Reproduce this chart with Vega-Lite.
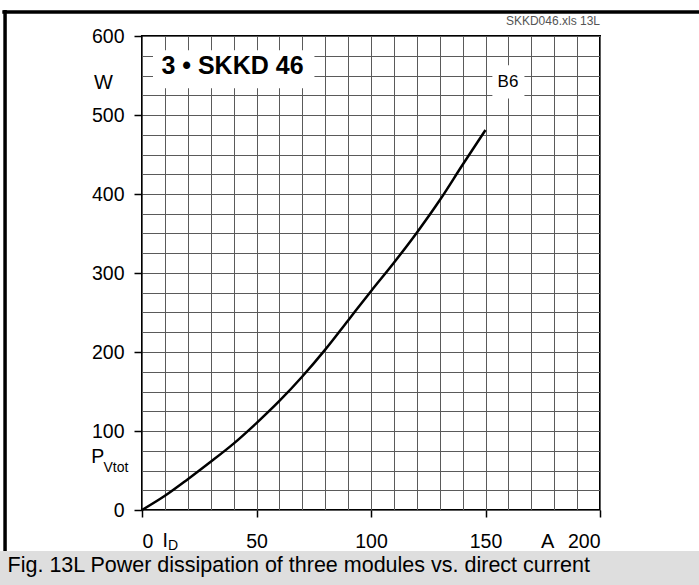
{
  "$schema": "https://vega.github.io/schema/vega-lite/v6.json",
  "width": 458,
  "height": 474,
  "autosize": {"type": "none"},
  "padding": {"left": 142, "top": 36, "right": 99, "bottom": 75},
  "background": "white",
  "config": {
    "view": {"stroke": "black", "strokeWidth": 2},
    "font": "Liberation Sans",
    "text": {"font": "Liberation Sans", "color": "black"}
  },
  "datasets": {
    "curve": [
      {"I": 0, "P": 0}, {"I": 10, "P": 18}, {"I": 20, "P": 39}, {"I": 30, "P": 61},
      {"I": 40, "P": 84}, {"I": 50, "P": 110}, {"I": 60, "P": 138}, {"I": 70, "P": 169},
      {"I": 80, "P": 203}, {"I": 90, "P": 240}, {"I": 100, "P": 277}, {"I": 110, "P": 313},
      {"I": 120, "P": 351}, {"I": 130, "P": 392}, {"I": 140, "P": 437}, {"I": 150, "P": 481}
    ],
    "band": [{"x": -62, "x2": 246, "y": -52, "y2": -100}],
    "frame": [
      {"x": -61, "x2": 246, "y": 630.4, "y2": 630.4},
      {"x": -59.8, "x2": -59.8, "y": 633, "y2": -52}
    ],
    "boxes": [
      {"x": 4.8, "x2": 75.3, "y": 534, "y2": 582},
      {"x": 153, "x2": 167, "y": 521, "y2": 563}
    ]
  },
  "resolve": {"axis": {"x": "independent", "y": "independent"}},
  "layer": [
    {
      "data": {"name": "band"},
      "mark": {"type": "rect", "color": "#dedede", "clip": false},
      "encoding": {
        "x": {"field": "x", "type": "quantitative", "scale": {"domain": [0, 200], "nice": false, "zero": false},
          "axis": {"orient": "bottom", "values": [0,10,20,30,40,50,60,70,80,90,100,110,120,130,140,150,160,170,180,190,200], "grid": true, "gridColor": "#5a5a5a", "gridWidth": 1, "gridOpacity": 1, "labels": false, "ticks": false, "domain": false, "title": null}},
        "x2": {"field": "x2"},
        "y": {"field": "y", "type": "quantitative", "scale": {"domain": [0, 600], "nice": false, "zero": false},
          "axis": {"orient": "left", "values": [0,25,50,75,100,125,150,175,200,225,250,275,300,325,350,375,400,425,450,475,500,525,550,575,600], "grid": true, "gridColor": "#5a5a5a", "gridWidth": 1, "gridOpacity": 1, "labels": false, "ticks": false, "domain": false, "title": null}},
        "y2": {"field": "y2"}
      }
    },
    {
      "data": {"name": "frame"},
      "mark": {"type": "rule", "color": "black", "strokeWidth": 3.5, "clip": false},
      "encoding": {
        "x": {"field": "x", "type": "quantitative", "scale": {"domain": [0, 200], "nice": false, "zero": false}, "axis": null},
        "x2": {"field": "x2"},
        "y": {"field": "y", "type": "quantitative", "scale": {"domain": [0, 600], "nice": false, "zero": false}, "axis": null},
        "y2": {"field": "y2"}
      }
    },
    {
      "data": {"name": "boxes"},
      "mark": {"type": "rect", "color": "white"},
      "encoding": {
        "x": {"field": "x", "type": "quantitative", "scale": {"domain": [0, 200], "nice": false, "zero": false}, "axis": null},
        "x2": {"field": "x2"},
        "y": {"field": "y", "type": "quantitative", "scale": {"domain": [0, 600], "nice": false, "zero": false}, "axis": null},
        "y2": {"field": "y2"}
      }
    },
    {
      "data": {"name": "curve"},
      "mark": {"type": "line", "color": "black", "strokeWidth": 2.5, "interpolate": "monotone"},
      "encoding": {
        "x": {"field": "I", "type": "quantitative", "scale": {"domain": [0, 200], "nice": false, "zero": false},
          "axis": {"orient": "bottom", "values": [0, 50, 100, 150, 200], "grid": false, "domain": false, "tickSize": 7, "tickColor": "black", "tickWidth": 1.5, "labelFontSize": 19.5, "labelFont": "Liberation Sans", "labelColor": "black", "labelPadding": 15, "labelBaseline": "top", "title": null}},
        "y": {"field": "P", "type": "quantitative", "scale": {"domain": [0, 600], "nice": false, "zero": false},
          "axis": {"orient": "left", "values": [0, 100, 200, 300, 400, 500, 600], "grid": false, "domain": false, "tickSize": 8, "tickColor": "black", "tickWidth": 1.5, "labelFontSize": 19.5, "labelFont": "Liberation Sans", "labelColor": "black", "labelPadding": 10, "title": null}}
      }
    },
    {
      "data": {"values": [{"x": 39.5, "y": 562, "t": "3 • SKKD 46"}]},
      "mark": {"type": "text", "fontSize": 25, "fontWeight": "bold", "align": "center", "baseline": "middle", "clip": false},
      "encoding": {
        "x": {"field": "x", "type": "quantitative", "scale": {"domain": [0, 200], "nice": false, "zero": false}, "axis": null},
        "y": {"field": "y", "type": "quantitative", "scale": {"domain": [0, 600], "nice": false, "zero": false}, "axis": null},
        "text": {"field": "t"}
      }
    },
    {
      "data": {"values": [{"x": 159.8, "y": 542, "t": "B6"}]},
      "mark": {"type": "text", "fontSize": 17, "align": "center", "baseline": "middle", "clip": false},
      "encoding": {
        "x": {"field": "x", "type": "quantitative", "scale": {"domain": [0, 200], "nice": false, "zero": false}, "axis": null},
        "y": {"field": "y", "type": "quantitative", "scale": {"domain": [0, 600], "nice": false, "zero": false}, "axis": null},
        "text": {"field": "t"}
      }
    },
    {
      "data": {"values": [{"x": -16.8, "y": 540, "t": "W"}, {"x": 177.2, "y": -40, "t": "A"}]},
      "mark": {"type": "text", "fontSize": 20, "align": "center", "baseline": "middle", "clip": false},
      "encoding": {
        "x": {"field": "x", "type": "quantitative", "scale": {"domain": [0, 200], "nice": false, "zero": false}, "axis": null},
        "y": {"field": "y", "type": "quantitative", "scale": {"domain": [0, 600], "nice": false, "zero": false}, "axis": null},
        "text": {"field": "t"}
      }
    },
    {
      "data": {"values": [{"x": -22.2, "y": 59.5, "t": "P"}, {"x": 9, "y": -47, "t": "I"}]},
      "mark": {"type": "text", "fontSize": 19.5, "align": "left", "baseline": "alphabetic", "clip": false},
      "encoding": {
        "x": {"field": "x", "type": "quantitative", "scale": {"domain": [0, 200], "nice": false, "zero": false}, "axis": null},
        "y": {"field": "y", "type": "quantitative", "scale": {"domain": [0, 600], "nice": false, "zero": false}, "axis": null},
        "text": {"field": "t"}
      }
    },
    {
      "data": {"values": [{"x": -16.8, "y": 48, "t": "Vtot"}, {"x": 11.3, "y": -50, "t": "D"}]},
      "mark": {"type": "text", "fontSize": 14, "align": "left", "baseline": "alphabetic", "clip": false},
      "encoding": {
        "x": {"field": "x", "type": "quantitative", "scale": {"domain": [0, 200], "nice": false, "zero": false}, "axis": null},
        "y": {"field": "y", "type": "quantitative", "scale": {"domain": [0, 600], "nice": false, "zero": false}, "axis": null},
        "text": {"field": "t"}
      }
    },
    {
      "data": {"values": [{"x": 200, "y": 614, "t": "SKKD046.xls 13L"}]},
      "mark": {"type": "text", "fontSize": 12, "align": "right", "baseline": "alphabetic", "color": "#555", "clip": false},
      "encoding": {
        "x": {"field": "x", "type": "quantitative", "scale": {"domain": [0, 200], "nice": false, "zero": false}, "axis": null},
        "y": {"field": "y", "type": "quantitative", "scale": {"domain": [0, 600], "nice": false, "zero": false}, "axis": null},
        "text": {"field": "t"}
      }
    },
    {
      "data": {"values": [{"x": -58.7, "y": -79, "t": "Fig. 13L Power dissipation of three modules vs. direct current"}]},
      "mark": {"type": "text", "fontSize": 21.5, "align": "left", "baseline": "alphabetic", "clip": false},
      "encoding": {
        "x": {"field": "x", "type": "quantitative", "scale": {"domain": [0, 200], "nice": false, "zero": false}, "axis": null},
        "y": {"field": "y", "type": "quantitative", "scale": {"domain": [0, 600], "nice": false, "zero": false}, "axis": null},
        "text": {"field": "t"}
      }
    }
  ]
}
